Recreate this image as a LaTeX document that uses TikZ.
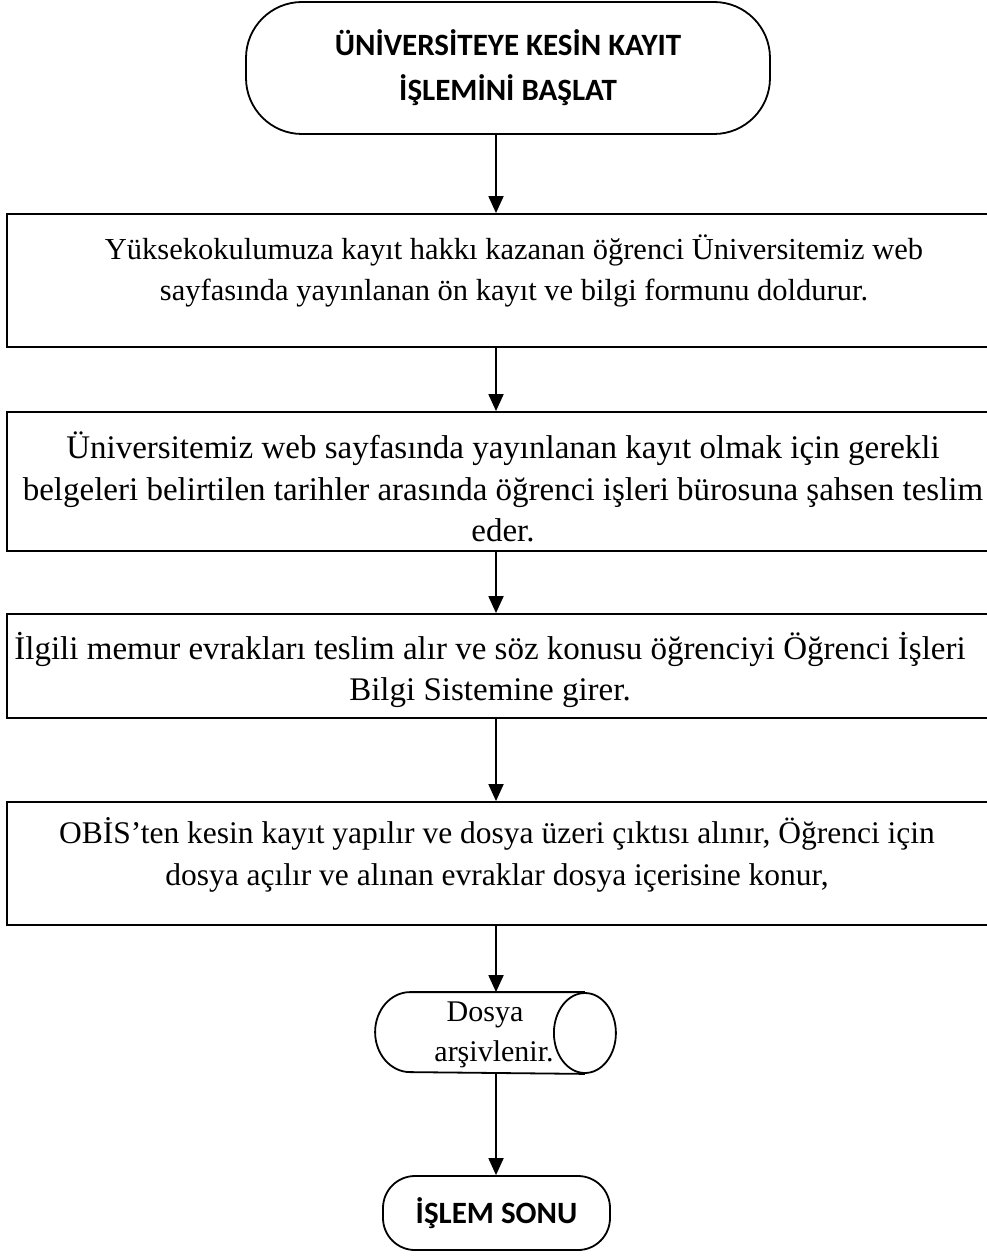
\documentclass[tikz,border=0pt]{standalone}
\usepackage{fontspec}
\setmainfont{Liberation Serif}
\newfontfamily\calib{Carlito}
\usetikzlibrary{arrows.meta}
\begin{document}
\begin{tikzpicture}[x=1pt,y=1pt,
  line width=1.8pt,
  procbox/.style={draw, rectangle, inner sep=0pt, minimum width=1033pt},
  term/.style={draw, rectangle, rounded corners=#1, inner sep=0pt},
  txt/.style={align=center, font=\fontsize{#1}{41.5}\selectfont, inner sep=0pt},
  txt/.default=31,
  ttl/.style={align=center, font=\calib\bfseries\fontsize{31}{45}\selectfont},
  arr/.style={-{Triangle[width=15pt,length=17pt]}}]
\useasboundingbox (0,0) rectangle (986,-1260);
\coordinate (ax) at (496,0);
% start terminator
\node[term=56pt, ttl, minimum width=524pt, minimum height=132pt] (start) at (508,-68) {ÜNİVERSİTEYE KESİN KAYIT\\İŞLEMİNİ BAŞLAT};
% process boxes
\node[procbox, minimum height=133pt] (b1) at (523.5,-280.5) {};
\node[txt=30.5] (t1) at (514,-271) {Yüksekokulumuza kayıt hakkı kazanan öğrenci Üniversitemiz web\\sayfasında yayınlanan ön kayıt ve bilgi formunu doldurur.};
\node[procbox, minimum height=139pt] (b2) at (523.5,-481.5) {};
\node[txt=33] (t2) at (503,-487) {Üniversitemiz web sayfasında yayınlanan kayıt olmak için gerekli\\belgeleri belirtilen tarihler arasında öğrenci işleri bürosuna şahsen teslim\\eder.};
\node[procbox, minimum height=104pt] (b3) at (523.5,-666) {};
\node[txt=33] (t3) at (490,-670) {İlgili memur evrakları teslim alır ve söz konusu öğrenciyi Öğrenci İşleri\\Bilgi Sistemine girer.};
\node[procbox, minimum height=123pt] (b4) at (523.5,-863.5) {};
\node[txt=31.5] (t4) at (497,-855) {OBİS’ten kesin kayıt yapılır ve dosya üzeri çıktısı alınır, Öğrenci için\\dosya açılır ve alınan evraklar dosya içerisine konur,};
% storage shape
\node[minimum width=239pt, minimum height=80pt, inner sep=0pt] (st) at (495.5,-1033) {};
\draw ([xshift=-31pt]st.north east) -- ([xshift=35pt]st.north west)
  arc[start angle=90, end angle=270, x radius=35pt, y radius=40pt]
  -- ([xshift=-31pt]st.south east);
\draw ([xshift=-31pt]st.east) ellipse [x radius=31pt, y radius=40pt];
\node[txt, font=\fontsize{30}{40}\selectfont] (stt) at (494,-1035) {Dosya\hspace*{18pt}\\arşivlenir.};
% end terminator
\node[term=32pt, ttl, minimum width=227pt, minimum height=74pt] (end) at (496.5,-1213) {İŞLEM SONU};
% connectors
\draw[arr] (start.south -| ax) -- (b1.north -| ax);
\draw[arr] (b1.south -| ax) -- (b2.north -| ax);
\draw[arr] (b2.south -| ax) -- (b3.north -| ax);
\draw[arr] (b3.south -| ax) -- (b4.north -| ax);
\draw[arr] (b4.south -| ax) -- (st.north -| ax);
\draw[arr] (st.south -| ax) -- (end.north -| ax);
\end{tikzpicture}
\end{document}
